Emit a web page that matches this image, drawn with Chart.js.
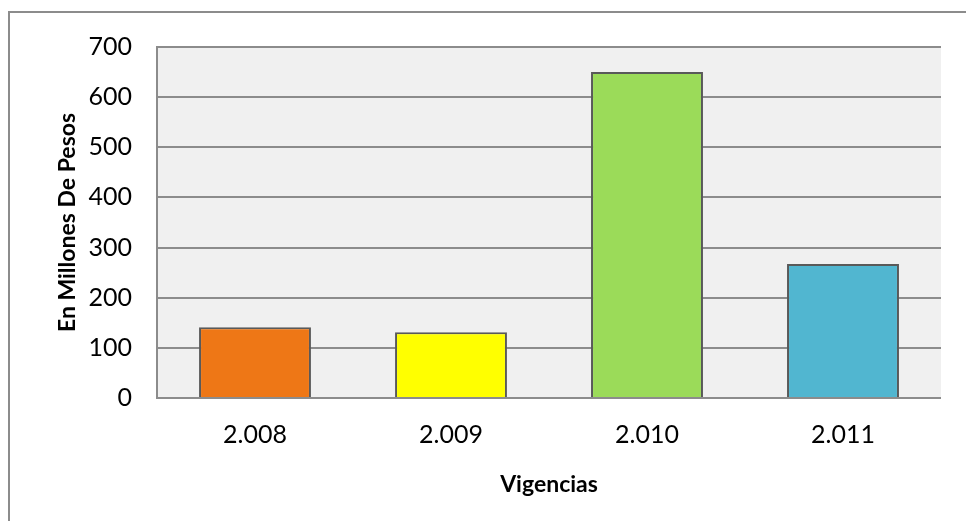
<!DOCTYPE html>
<html>
<head>
<meta charset="utf-8">
<script src="https://cdn.jsdelivr.net/npm/chart.js@4.4.0/dist/chart.umd.min.js"></script>
<style>
    body { margin: 0; background: #ffffff; overflow: hidden; }
    #wrap { position: relative; width: 966px; height: 521px; }
    #frame {
        position: absolute; left: 8px; top: 11px; width: 1000px; height: 600px;
        border: 2px solid #8c8c8c;
    }
    canvas { position: absolute; left: 0; top: 0; }
</style>
</head>
<body>
<div id="wrap">
    <div id="frame"></div>
    <canvas id="myBarChart" width="966" height="521"></canvas>
</div>
<script>
const years = ['2.008', '2.009', '2.010', '2.011'];
const amounts = [141, 131, 650, 267];
const barColors = ['#ee7716', '#ffff00', '#9bdb59', '#51b6d0'];
const yTicks = [0, 100, 200, 300, 400, 500, 600, 700];

// grey plot background like the original sheet chart
const plotBg = {
    id: 'plotBg',
    beforeDraw(chart) {
        const a = chart.chartArea;
        const ctx = chart.ctx;
        ctx.save();
        ctx.fillStyle = '#f0f0f0';
        ctx.fillRect(a.left, a.top, a.right - a.left, a.bottom - a.top);
        ctx.restore();
    }
};

function drawChart() {
    const ctx = document.getElementById('myBarChart').getContext('2d');
    new Chart(ctx, {
        type: 'bar',
        data: {
            labels: years,
            datasets: [{
                data: amounts,
                backgroundColor: barColors,
                borderColor: '#595959',
                borderWidth: 2,
                categoryPercentage: 1,
                barPercentage: 0.571
            }]
        },
        options: {
            responsive: false,
            animation: false,
            layout: { padding: { left: 0, right: 25, top: 47, bottom: 0 } },
            plugins: { legend: { display: false }, tooltip: { enabled: false } },
            scales: {
                x: {
                    grid: { display: false },
                    border: { display: false },
                    ticks: { color: '#000', padding: 14, font: { family: 'Lato', size: 25 } },
                    title: {
                        display: true, text: 'Vigencias', color: '#000',
                        font: { family: 'Lato', size: 23, weight: 'bold' },
                        padding: { top: 0, bottom: 23 }
                    },
                    afterFit(s) { s.height = 123; }
                },
                y: {
                    min: 0, max: 700,
                    afterBuildTicks(s) { s.ticks = yTicks.map(v => ({ value: v })); },
                    grid: { color: '#8c8c8c', lineWidth: 2, drawTicks: false },
                    border: { display: true, color: '#8c8c8c', width: 2 },
                    ticks: { color: '#000', padding: 25, font: { family: 'Lato', size: 25 } },
                    title: {
                        display: true, text: 'En Millones De Pesos', color: '#000',
                        font: { family: 'Lato', size: 23, weight: 'bold' },
                        padding: { top: 54, bottom: 0 }
                    },
                    afterFit(s) { s.width = 157; }
                }
            }
        },
        plugins: [plotBg]
    });
}

window.onload = function() {
    drawChart();
};
</script>
</body>
</html>
